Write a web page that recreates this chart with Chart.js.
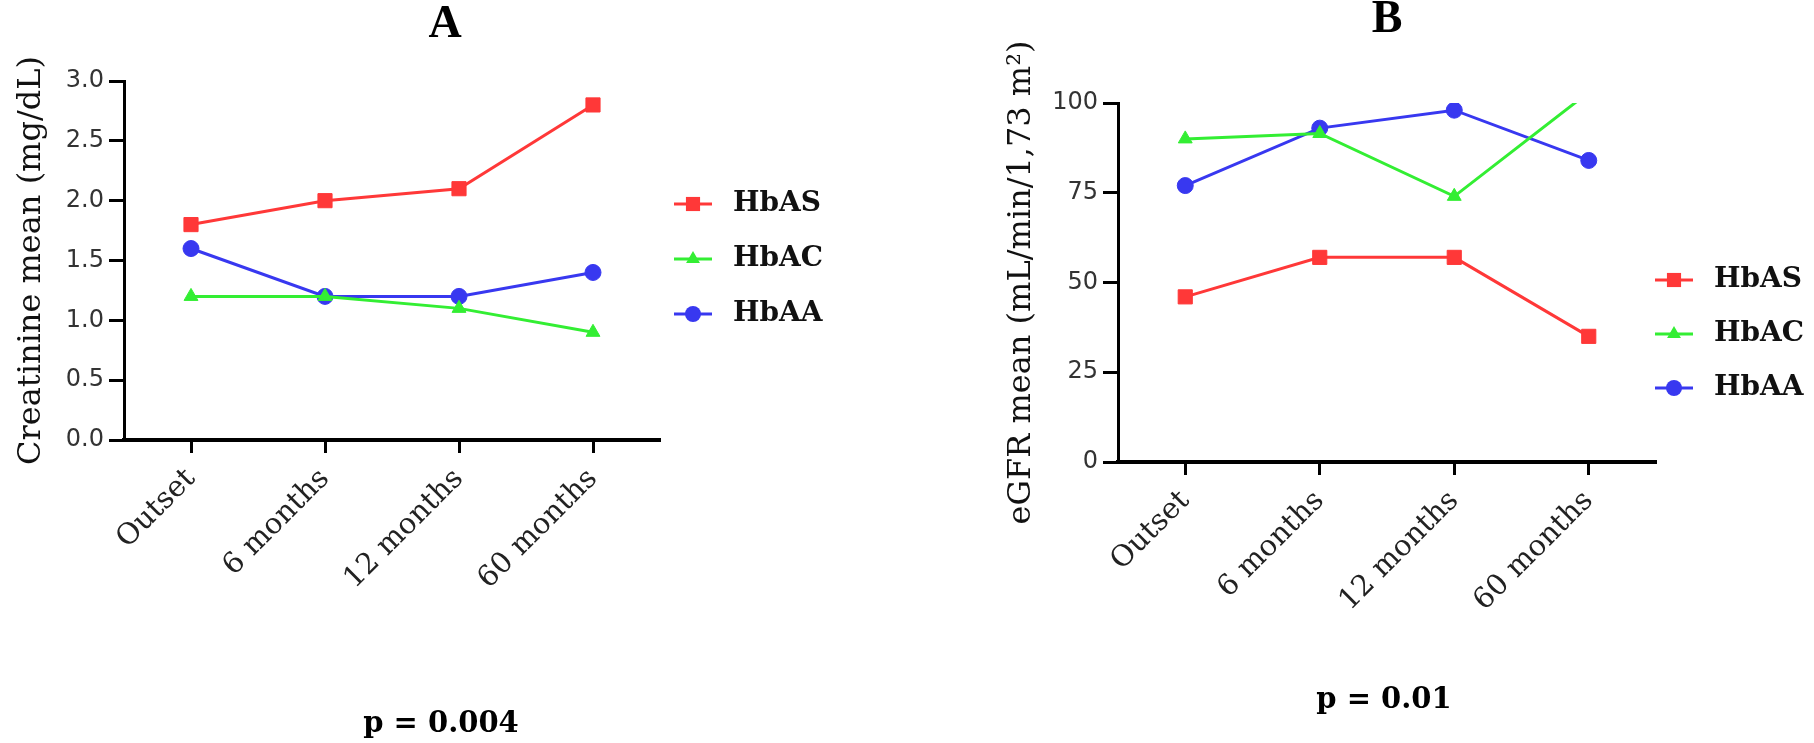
<!DOCTYPE html>
<html>
<head>
<meta charset="utf-8">
<title>Creatinine / eGFR</title>
<script src="https://cdn.jsdelivr.net/npm/chart.js@4.4.1/dist/chart.umd.min.js"></script>
<style>
    html, body { margin: 0; padding: 0; background: #fff; }
    body { width: 1814px; height: 743px; position: relative; overflow: hidden; }
    canvas { position: absolute; top: 0; }
    #chartA { left: 0; }
    #chartB { left: 960px; }
</style>
</head>
<body>
<canvas id="chartA" width="890" height="743"></canvas>
<canvas id="chartB" width="850" height="743"></canvas>
<script>
// Datos
const periodos = ['Outset', '6 months', '12 months', '60 months'];
const grupos = ['HbAS', 'HbAC', 'HbAA'];

// Panel A: creatinina media (mg/dL)
const creatHbAS = [1.8, 2.0, 2.1, 2.8];
const creatHbAC = [1.2, 1.2, 1.1, 0.9];
const creatHbAA = [1.6, 1.2, 1.2, 1.4];
const ticksCreat = ['0.0', '0.5', '1.0', '1.5', '2.0', '2.5', '3.0'];

// Panel B: TFGe media (mL/min/1,73 m²) - el último HbAC se sale del eje
const egfrHbAS = [46, 57, 57, 35];
const egfrHbAC = [90, 91.5, 74, 103];
const egfrHbAA = [77, 93, 98, 84];
const ticksEgfr = ['0', '25', '50', '75', '100'];

const colores = ['#ff3838', '#33ee33', '#3838f0'];
const estilos = ['rect', 'triangle', 'circle'];
const radios = [10, 8, 8];

// Leyenda al estilo Prism: línea corta con el marcador al centro
const leyendaLateral = {
    id: 'leyendaLateral',
    afterDraw(chart, args, opts) {
        const {ctx, chartArea} = chart;
        chart.data.datasets.forEach((ds, i) => {
            const x = chartArea.right + opts.dx;
            const y = chartArea.top + opts.dy + i * opts.gap;
            ctx.save();
            ctx.strokeStyle = ds.borderColor;
            ctx.fillStyle = ds.backgroundColor;
            ctx.lineWidth = ds.borderWidth;
            ctx.beginPath();
            ctx.moveTo(x, y);
            ctx.lineTo(x + 38, y);
            ctx.stroke();
            Chart.helpers.drawPoint(ctx, {
                pointStyle: ds.pointStyle,
                radius: ds.pointRadius,
                rotation: 0,
                borderWidth: 0
            }, x + 19, y);
            ctx.fillStyle = '#111';
            ctx.font = 'bold 28px "DejaVu Serif"';
            ctx.textAlign = 'left';
            ctx.textBaseline = 'middle';
            ctx.fillText(ds.label, x + 59, y);
            ctx.restore();
        });
    }
};

// Letra del panel arriba y valor p abajo
const textosPanel = {
    id: 'textosPanel',
    afterDraw(chart, args, opts) {
        const ctx = chart.ctx;
        ctx.save();
        ctx.fillStyle = '#000';
        ctx.textAlign = 'center';
        ctx.textBaseline = 'middle';
        ctx.font = 'bold 46px "Liberation Serif"';
        ctx.fillText(opts.letra, opts.letraX, opts.letraY);
        ctx.font = 'bold 29px "DejaVu Serif"';
        ctx.fillText(opts.pValor, opts.pX, opts.pY);
        ctx.restore();
    }
};

function serie(i, data) {
    return {
        label: grupos[i],
        data: data,
        borderColor: colores[i],
        backgroundColor: colores[i],
        pointBackgroundColor: colores[i],
        pointBorderColor: colores[i],
        pointBorderWidth: 1,
        pointStyle: estilos[i],
        pointRadius: radios[i],
        pointHoverRadius: radios[i],
        borderWidth: 3,
        tension: 0,
        fill: false
    };
}

function crearPanel(id, cfg) {
    const ctx = document.getElementById(id).getContext('2d');
    return new Chart(ctx, {
        type: 'line',
        data: {
            labels: periodos,
            datasets: cfg.valores.map((v, i) => serie(i, v))
        },
        plugins: [leyendaLateral, textosPanel],
        options: {
            responsive: false,
            animation: false,
            devicePixelRatio: 1,
            layout: {
                padding: { left: 0, right: cfg.margenDer, top: cfg.margenSup, bottom: cfg.margenInf }
            },
            plugins: {
                legend: { display: false },
                tooltip: { enabled: false },
                leyendaLateral: { dx: cfg.leyX, dy: cfg.leyY, gap: cfg.leyGap },
                textosPanel: {
                    letra: cfg.letra, letraX: cfg.letraX, letraY: cfg.letraY,
                    pValor: cfg.pValor, pX: cfg.pX, pY: cfg.pY
                }
            },
            scales: {
                x: {
                    type: 'category',
                    offset: true,
                    afterFit: s => { s.height = 200; },
                    border: { display: true, color: '#000', width: 4 },
                    grid: {
                        drawOnChartArea: false,
                        drawTicks: true,
                        tickLength: 13,
                        tickWidth: 3,
                        tickColor: '#000'
                    },
                    ticks: {
                        minRotation: 45,
                        maxRotation: 45,
                        autoSkip: false,
                        padding: 9,
                        color: '#222',
                        font: { family: 'DejaVu Serif', size: 29 }
                    }
                },
                y: {
                    min: 0,
                    max: cfg.maxY,
                    afterFit: s => { s.width = cfg.anchoY; },
                    border: { display: true, color: '#000', width: 3 },
                    grid: {
                        drawOnChartArea: false,
                        drawTicks: true,
                        tickLength: 15,
                        tickWidth: 3,
                        tickColor: '#000'
                    },
                    ticks: {
                        stepSize: cfg.paso,
                        padding: 5,
                        color: '#333',
                        font: { family: 'DejaVu Sans', size: 24 },
                        callback: (v, i) => cfg.ticksY[i]
                    },
                    title: {
                        display: true,
                        text: cfg.tituloY,
                        color: '#111',
                        font: { family: 'DejaVu Serif', size: 32 },
                        padding: { top: cfg.padTituloY, bottom: 0 }
                    }
                }
            }
        }
    });
}

crearPanel('chartA', {
    letra: 'A', letraX: 445, letraY: 25.5,
    pValor: 'p = 0.004', pX: 441, pY: 724,
    valores: [creatHbAS, creatHbAC, creatHbAA],
    ticksY: ticksCreat,
    maxY: 3,
    paso: 0.5,
    tituloY: 'Creatinine mean (mg/dL)',
    margenDer: 230,
    margenSup: 81,
    margenInf: 103,
    anchoY: 124,
    padTituloY: 12.8,
    leyX: 14,
    leyY: 123,
    leyGap: 55
});

crearPanel('chartB', {
    letra: 'B', letraX: 427, letraY: 20.5,
    pValor: 'p = 0.01', pX: 424, pY: 700,
    valores: [egfrHbAS, egfrHbAC, egfrHbAA],
    ticksY: ticksEgfr,
    maxY: 100,
    paso: 25,
    tituloY: 'eGFR mean (mL/min/1,73 m²)',
    margenDer: 154,
    margenSup: 103,
    margenInf: 81,
    anchoY: 158,
    padTituloY: 42.8,
    leyX: -1,
    leyY: 177,
    leyGap: 54
});
</script>
</body>
</html>
